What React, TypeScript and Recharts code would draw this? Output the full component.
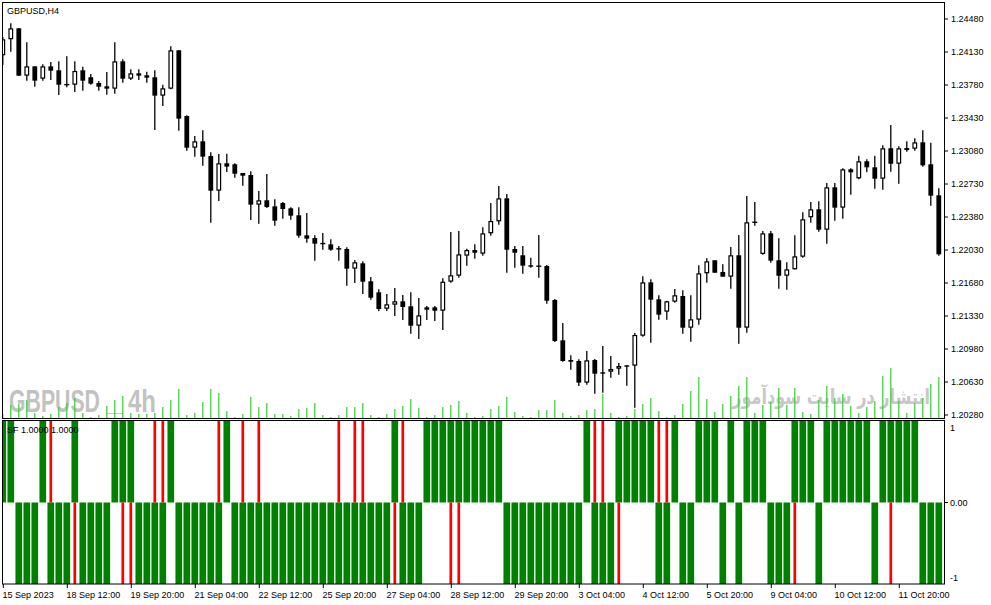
import React, { useLayoutEffect, useRef, useState } from "react";
import { ComposedChart, Bar, XAxis, YAxis } from "recharts";

// GBPUSD H4, 15 Sep - 12 Oct 2023
const opens = [
  1.24095, 1.24265, 1.24381, 1.23879, 1.23978, 1.23847, 1.23978, 1.23936, 1.23784, 1.23783,
  1.23936, 1.23862, 1.23801, 1.23766, 1.23741, 1.24031, 1.23847, 1.23904, 1.23883, 1.23862,
  1.23667, 1.23741, 1.24148, 1.23451, 1.23115, 1.23183, 1.23027, 1.22659, 1.2295, 1.22939,
  1.22847, 1.22825, 1.22511, 1.22557, 1.22493, 1.22528, 1.22472, 1.22398, 1.22186, 1.22157,
  1.22098, 1.2209, 1.22042, 1.22041, 1.21832, 1.21889, 1.21698, 1.21581, 1.21407, 1.2145,
  1.21486, 1.21433, 1.21227, 1.21397, 1.21422, 1.21386, 1.21694, 1.21757, 1.2197, 1.2203,
  1.21991, 1.22207, 1.22334, 1.22578, 1.22041, 1.21974, 1.21868, 1.21858, 1.2186, 1.215,
  1.21072, 1.20863, 1.20853, 1.20623, 1.20863, 1.20733, 1.20739, 1.20771, 1.20807, 1.20803,
  1.21121, 1.21687, 1.21507, 1.21376, 1.21482, 1.21542, 1.21206, 1.21291, 1.21783, 1.21921,
  1.21797, 1.21747, 1.21974, 1.21206, 1.22323, 1.21988, 1.22207, 1.21921, 1.21757, 1.21825,
  1.21959, 1.22377, 1.22462, 1.22245, 1.22695, 1.22479, 1.22886, 1.2279, 1.22971, 1.22907,
  1.22786, 1.23109, 1.22945, 1.2309, 1.23104, 1.23172, 1.22939, 1.2261,
];
const highs = [
  1.24289, 1.24434, 1.24384, 1.24233, 1.23981, 1.23999, 1.24024, 1.24031, 1.24084, 1.24031,
  1.23974, 1.23897, 1.23822, 1.23918, 1.24233, 1.24053, 1.23947, 1.23947, 1.23921, 1.23936,
  1.23783, 1.2419, 1.24151, 1.23459, 1.23239, 1.233, 1.23066, 1.23048, 1.23051, 1.2295,
  1.22848, 1.22865, 1.22656, 1.22836, 1.22568, 1.22539, 1.22483, 1.22483, 1.22422, 1.22186,
  1.2221, 1.22144, 1.22072, 1.22059, 1.21924, 1.2191, 1.21744, 1.21613, 1.21563, 1.21627,
  1.21553, 1.21581, 1.21521, 1.21436, 1.21436, 1.2173, 1.22221, 1.22232, 1.22044, 1.2209,
  1.22271, 1.22528, 1.22709, 1.22624, 1.22072, 1.22072, 1.21948, 1.22189, 1.21871, 1.2151,
  1.21256, 1.20913, 1.20871, 1.20959, 1.20874, 1.21012, 1.20906, 1.20832, 1.20808, 1.2115,
  1.21751, 1.21719, 1.2155, 1.21492, 1.21616, 1.21603, 1.2155, 1.21868, 1.21942, 1.21922,
  1.21878, 1.22062, 1.22189, 1.22603, 1.22539, 1.22232, 1.22232, 1.22154, 1.219, 1.22186,
  1.2243, 1.22539, 1.22547, 1.22741, 1.22741, 1.22897, 1.22897, 1.2303, 1.22992, 1.2303,
  1.2314, 1.23356, 1.2313, 1.23183, 1.23215, 1.233, 1.23168, 1.22684,
];
const lows = [
  1.23992, 1.24133, 1.23876, 1.23826, 1.23762, 1.23826, 1.23833, 1.23674, 1.23756, 1.23706,
  1.2372, 1.23783, 1.2372, 1.23677, 1.23688, 1.23804, 1.23833, 1.23833, 1.23804, 1.23303,
  1.23557, 1.23734, 1.23295, 1.23083, 1.2302, 1.22924, 1.2232, 1.2255, 1.22857, 1.22797,
  1.22712, 1.22348, 1.22309, 1.22475, 1.22288, 1.22362, 1.22351, 1.2216, 1.22107, 1.21917,
  1.22033, 1.22023, 1.21917, 1.21651, 1.2168, 1.21563, 1.21503, 1.21383, 1.21383, 1.2133,
  1.21288, 1.21142, 1.21086, 1.21288, 1.21277, 1.21181, 1.21683, 1.21736, 1.21864, 1.21938,
  1.2197, 1.22182, 1.22298, 1.21789, 1.21842, 1.21779, 1.21842, 1.21736, 1.21461, 1.21054,
  1.20845, 1.2076, 1.20588, 1.20601, 1.20506, 1.20517, 1.20676, 1.20707, 1.20591, 1.20357,
  1.2111, 1.21047, 1.21291, 1.21291, 1.21471, 1.21142, 1.21057, 1.21238, 1.21683, 1.21788,
  1.21746, 1.2162, 1.21036, 1.21153, 1.22288, 1.2198, 1.21895, 1.2162, 1.21609, 1.21824,
  1.21948, 1.2232, 1.22224, 1.22097, 1.22341, 1.22362, 1.22617, 1.2278, 1.22854, 1.2268,
  1.2267, 1.2286, 1.22733, 1.23073, 1.23083, 1.22914, 1.225, 1.2197,
];
const closes = [
  1.24265, 1.24381, 1.23879, 1.23978, 1.23826, 1.23978, 1.23932, 1.23783, 1.23783, 1.23929,
  1.23826, 1.23794, 1.23762, 1.23741, 1.24031, 1.23847, 1.23904, 1.23879, 1.23857, 1.23667,
  1.23745, 1.24148, 1.23423, 1.23115, 1.23183, 1.2302, 1.22659, 1.2295, 1.22914, 1.22839,
  1.22818, 1.22511, 1.22557, 1.22486, 1.22341, 1.22465, 1.22394, 1.22182, 1.2215, 1.22097,
  1.22097, 1.22033, 1.22041, 1.21832, 1.219, 1.21694, 1.21524, 1.21404, 1.21454, 1.21486,
  1.21425, 1.21227, 1.21337, 1.21422, 1.21386, 1.21694, 1.21762, 1.21984, 1.2203, 1.22001,
  1.22207, 1.22338, 1.22578, 1.22033, 1.22001, 1.21864, 1.21853, 1.21857, 1.21492, 1.21065,
  1.20853, 1.20845, 1.20623, 1.2086, 1.20718, 1.20718, 1.20768, 1.208, 1.20792, 1.21129,
  1.21687, 1.21503, 1.21344, 1.21486, 1.2155, 1.21206, 1.21295, 1.21783, 1.2191, 1.21789,
  1.21747, 1.21974, 1.21206, 1.22324, 1.22324, 1.22207, 1.21917, 1.21757, 1.21825, 1.21963,
  1.22356, 1.22462, 1.22245, 1.22695, 1.22479, 1.22886, 1.22854, 1.22971, 1.22907, 1.22786,
  1.23109, 1.22945, 1.23109, 1.23112, 1.23172, 1.22928, 1.22606, 1.21984,
];
const volumes = [
  500, 1400, 1500, 1900, 600, 300, 500, 1200, 1600, 2100,
  600, 200, 400, 1300, 1900, 2300, 600, 500, 500, 600,
  1200, 1900, 3000, 400, 600, 1700, 3000, 2600, 800, 200,
  500, 2200, 1200, 1600, 500, 500, 300, 1000, 1100, 1600,
  400, 200, 400, 1200, 1200, 1600, 400, 200, 500, 1000,
  1300, 2000, 1100, 200, 400, 1200, 1400, 1800, 600, 200,
  300, 1000, 1300, 2200, 700, 300, 200, 900, 900, 1900,
  600, 300, 400, 900, 1000, 2500, 600, 200, 300, 1000,
  1500, 2100, 800, 200, 400, 1500, 2800, 4200, 2000, 700,
  1500, 2300, 3300, 4200, 600, 1400, 1700, 3100, 1400, 3100,
  700, 500, 1900, 3300, 2100, 2500, 1300, 600, 1200, 1800,
  4300, 5100, 1800, 600, 1600, 2100, 3500, 4200,
];

// SF indicator: +1 / -1 per bar, and the bars where a red opposite bar shows
const sfValues = [
  1, 1, -1, -1, -1, 1, -1, -1, -1, 1,
  -1, -1, -1, -1, 1, 1, 1, -1, -1, -1,
  -1, 1, -1, -1, -1, -1, -1, -1, 1, -1,
  -1, -1, -1, -1, -1, -1, -1, -1, -1, -1,
  -1, -1, -1, -1, -1, -1, -1, -1, -1, 1,
  -1, -1, -1, 1, 1, 1, 1, 1, 1, 1,
  1, 1, 1, -1, -1, -1, -1, -1, -1, -1,
  -1, -1, -1, 1, -1, -1, -1, 1, 1, 1,
  1, 1, -1, -1, 1, -1, -1, 1, 1, 1,
  -1, 1, -1, 1, 1, 1, -1, -1, -1, 1,
  1, 1, -1, 1, 1, 1, 1, 1, 1, -1,
  1, 1, 1, 1, 1, -1, -1, -1,
];
const sfFlips = [6, 9, 15, 16, 19, 20, 27, 30, 32, 42, 44, 45, 49, 50, 56, 57, 74, 75, 77, 82, 83, 99, 111];

const priceTicks = [
  1.2028, 1.2063, 1.2098, 1.2133, 1.2168, 1.2203, 1.2238, 1.2273, 1.2308, 1.2343, 1.2378, 1.2413, 1.2448,
];
const timeTicks = [0, 8, 16, 24, 32, 40, 48, 56, 64, 72, 80, 88, 96, 104, 112];
const timeLabels = [
  "15 Sep 2023", "18 Sep 12:00", "19 Sep 20:00", "21 Sep 04:00", "22 Sep 12:00",
  "25 Sep 20:00", "27 Sep 04:00", "28 Sep 12:00", "29 Sep 20:00", "3 Oct 04:00",
  "4 Oct 12:00", "5 Oct 20:00", "9 Oct 04:00", "10 Oct 12:00", "11 Oct 20:00",
];

const rows = opens.map((open, i) => ({
  i,
  open,
  high: highs[i],
  low: lows[i],
  close: closes[i],
  range: [lows[i], highs[i]],
  vol: volumes[i],
  sf: sfValues[i],
  flip: sfFlips.includes(i) ? -sfValues[i] : null,
}));

const FONT = '"Liberation Sans", Arial, sans-serif';
const X_DOMAIN = [-0.1625, 117.5875];
const P_DOMAIN = [1.202376, 1.246603];
const SF_BOTTOM = 164; // plot bottom inside the indicator chart

const Candle = (props: any) => {
  const { x, y, width, height, payload } = props;
  if (x == null || y == null || !payload) return null;
  const top = Math.min(y, y + height);
  const bot = Math.max(y, y + height);
  const span = payload.high - payload.low || 1e-9;
  const py = (v: number) => top + ((payload.high - v) / span) * (bot - top);
  const cx = x + width / 2;
  const bt = py(Math.max(payload.open, payload.close));
  const bb = py(Math.min(payload.open, payload.close));
  const bull = payload.close > payload.open;
  return (
    <g>
      <line x1={cx} x2={cx} y1={top} y2={bot} stroke="#000" strokeWidth={1.3} />
      {bb - bt < 1.2 ? (
        <line x1={cx - 2.5} x2={cx + 2.5} y1={bt} y2={bt} stroke="#000" strokeWidth={1.4} />
      ) : bull ? (
        <rect x={cx - 1.8} y={bt + 0.6} width={3.6} height={bb - bt - 1.2} fill="#fff" stroke="#000" strokeWidth={1.2} />
      ) : (
        <rect x={cx - 2.4} y={bt} width={4.8} height={bb - bt} fill="#000" />
      )}
    </g>
  );
};

const VolumeLine = (props: any) => {
  const { x, y, width, height } = props;
  if (x == null || y == null) return null;
  const cx = x + width / 2;
  return <line x1={cx} x2={cx} y1={y} y2={y + height} stroke="#32cd32" strokeWidth={1.2} />;
};

const sfBar = (w: number, color: string) => (props: any) => {
  const { x, y, width, height } = props;
  if (x == null || y == null) return null;
  const cx = x + width / 2;
  return <rect x={cx - w / 2} y={Math.min(y, y + height)} width={w} height={Math.abs(height)} fill={color} />;
};
const GreenBar = sfBar(6.7, "#008000");
const RedBar = sfBar(2.7, "#ff0000");

const TimeTick = (props: any) => {
  const { x, payload } = props;
  const idx = timeTicks.indexOf(payload.value);
  return (
    <g>
      <line x1={x} x2={x} y1={SF_BOTTOM} y2={SF_BOTTOM + 4} stroke="#000" />
      <text x={x - 0.7} y={SF_BOTTOM + 14} textAnchor="start" fontSize={9} fontFamily={FONT} fill="#000">
        {timeLabels[idx]}
      </text>
    </g>
  );
};

const SfTick = (props: any) => {
  const { x, y, payload } = props;
  const v = payload.value;
  const label = v === 0 ? "0.00" : String(v);
  const dy = v === 1 ? 7 : v === -1 ? -6 : 0;
  return (
    <g>
      {v === 0 && <line x1={944} x2={948} y1={y} y2={y} stroke="#000" />}
      <text x={x} y={y + dy} dy="0.35em" textAnchor="start" fontSize={9} fontFamily={FONT} fill="#000">
        {label}
      </text>
    </g>
  );
};

// watermark text squeezed to a given width, right edge at `right`
function FitText({ right, y, width, children, ...rest }: any) {
  const ref = useRef<SVGTextElement>(null);
  const [sx, setSx] = useState(1);
  useLayoutEffect(() => {
    if (ref.current) {
      const len = ref.current.getComputedTextLength();
      if (len > 0) setSx(width / len);
    }
  }, [width]);
  return (
    <g transform={`translate(${right} ${y}) scale(${sx} 1)`}>
      <text ref={ref} x={0} y={0} textAnchor="end" direction="ltr" {...rest}>
        {children}
      </text>
    </g>
  );
}

export default function App() {
  return (
    <div style={{ position: "absolute", left: 0, top: 0, width: 991, height: 605, background: "#fff" }}>
      {/* watermarks behind the series */}
      <svg width={991} height={605} style={{ position: "absolute", left: 0, top: 0 }}>
        <g fill="#c2c2c2" fontWeight="bold" fontFamily={FONT} fontSize={31}>
          <text transform="translate(9 411.5) scale(0.686 1)">GBPUSD</text>
          <text transform="translate(128 411.5) scale(0.774 1)">4h</text>
        </g>
        <line x1={107} x2={123} y1={413.5} y2={413.5} stroke="#c8c8c8" />
        <FitText
          right={930}
          y={404}
          width={198}
          fontSize={21}
          fontWeight="bold"
          fontFamily='"DejaVu Sans", sans-serif'
          fill="#c8c8c8"
        >
          انتشار در سایت سودآموز
        </FitText>
      </svg>

      <div style={{ position: "absolute", left: 0, top: 0 }}>
        <ComposedChart width={991} height={420} data={rows} margin={{ top: 2, right: 0, bottom: 1, left: 2 }}>
          <XAxis xAxisId="c" dataKey="i" type="number" domain={X_DOMAIN} allowDataOverflow hide />
          <XAxis xAxisId="v" dataKey="i" type="number" domain={X_DOMAIN} allowDataOverflow hide />
          <YAxis
            yAxisId="p"
            orientation="right"
            width={47}
            domain={P_DOMAIN}
            allowDataOverflow
            ticks={priceTicks}
            interval={0}
            axisLine={false}
            tickLine={{ stroke: "#000" }}
            tickSize={4}
            tickMargin={3}
            tickFormatter={(v: number) => v.toFixed(5)}
            tick={{ fill: "#000", fontSize: 9, fontFamily: FONT }}
          />
          <YAxis yAxisId="vol" domain={[0, 41700]} allowDataOverflow hide />
          <Bar xAxisId="v" yAxisId="vol" dataKey="vol" barSize={1} shape={VolumeLine} isAnimationActive={false} />
          <Bar xAxisId="c" yAxisId="p" dataKey="range" barSize={5} shape={Candle} isAnimationActive={false} />
        </ComposedChart>
      </div>

      <div style={{ position: "absolute", left: 0, top: 420 }}>
        <ComposedChart width={991} height={185} data={rows} margin={{ top: 1, right: 0, bottom: 0, left: 2 }}>
          <XAxis
            xAxisId="t"
            dataKey="i"
            type="number"
            domain={X_DOMAIN}
            allowDataOverflow
            ticks={timeTicks}
            interval={0}
            height={21}
            axisLine={false}
            tickLine={false}
            tickSize={4}
            tickMargin={2}
            tick={TimeTick}
          />
          <XAxis xAxisId="r" dataKey="i" type="number" domain={X_DOMAIN} allowDataOverflow hide />
          <YAxis
            orientation="right"
            width={47}
            domain={[-1, 1]}
            ticks={[-1, 0, 1]}
            interval={0}
            axisLine={false}
            tickLine={false}
            tickSize={4}
            tickMargin={2}
            tick={SfTick}
          />
          <Bar xAxisId="t" dataKey="sf" barSize={7} shape={GreenBar} isAnimationActive={false} />
          <Bar xAxisId="r" dataKey="flip" barSize={3} shape={RedBar} isAnimationActive={false} />
        </ComposedChart>
      </div>

      {/* panel frames and titles */}
      <svg width={991} height={605} style={{ position: "absolute", left: 0, top: 0, pointerEvents: "none" }}>
        <rect x={2.5} y={2.5} width={942} height={416} fill="none" stroke="#000" />
        <rect x={2.5} y={420.5} width={942} height={163.5} fill="none" stroke="#000" />
        <text x={7} y={14} fontSize={9} fontFamily={FONT} fill="#000">GBPUSD,H4</text>
        <text x={7} y={433} fontSize={9} fontFamily={FONT} fill="#000">SF 1.0000 1.0000</text>
      </svg>
    </div>
  );
}
